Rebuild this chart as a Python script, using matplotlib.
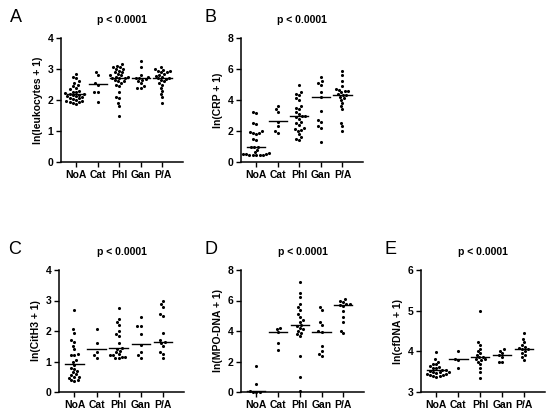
import numpy as np
import matplotlib
matplotlib.use("Agg")
import matplotlib.pyplot as plt

plt.rcParams['font.family'] = ['Liberation Sans', 'DejaVu Sans']

categories = ["NoA", "Cat", "Phl", "Gan", "P/A"]

# Panel A: ln(leukocytes + 1)
leuk = [
    [2.85, 2.75, 2.7, 2.6, 2.55, 2.5, 2.45, 2.4, 2.35, 2.3, 2.27, 2.25, 2.22, 2.2, 2.18,
     2.17, 2.15, 2.13, 2.12, 2.1, 2.08, 2.05, 2.02, 2.0, 1.98, 1.96, 1.94, 1.92, 1.9, 1.88],
    [2.9, 2.8, 2.55, 2.5, 2.25, 2.25, 1.95],
    [3.15, 3.1, 3.05, 3.05, 3.0, 3.0, 2.95, 2.9, 2.9, 2.85, 2.8, 2.8, 2.75, 2.75, 2.72,
     2.7, 2.7, 2.65, 2.6, 2.6, 2.55, 2.5, 2.45, 2.25, 2.1, 2.05, 1.9, 1.8, 1.5],
    [3.25, 3.05, 2.8, 2.75, 2.7, 2.7, 2.68, 2.65, 2.6, 2.55, 2.45, 2.4, 2.4],
    [3.05, 3.0, 2.98, 2.95, 2.95, 2.9, 2.9, 2.85, 2.8, 2.78, 2.75, 2.72, 2.7, 2.68, 2.65,
     2.6, 2.55, 2.5, 2.4, 2.3, 2.2, 2.1, 1.9],
]
leuk_med = [2.2, 2.52, 2.72, 2.7, 2.72]

# Panel B: ln(CRP + 1)
crp = [
    [3.2, 3.15, 2.5, 2.45, 2.0, 1.95, 1.9, 1.85, 1.8, 1.5, 1.45, 1.0, 1.0, 0.95, 0.8,
     0.62, 0.57, 0.54, 0.51, 0.49, 0.47, 0.45, 0.44, 0.43, 0.42],
    [3.6, 3.4, 3.2, 2.6, 2.3, 2.0, 1.9],
    [5.0, 4.5, 4.4, 4.3, 4.1, 4.0, 3.6, 3.5, 3.4, 3.2, 3.1, 3.0, 2.95, 2.9, 2.8, 2.6,
     2.5, 2.4, 2.2, 2.1, 2.05, 2.0, 1.8, 1.6, 1.5, 1.4],
    [5.5, 5.2, 5.1, 5.0, 4.5, 4.2, 3.3, 2.7, 2.6, 2.3, 2.2, 1.3],
    [5.85, 5.6, 5.2, 4.9, 4.7, 4.65, 4.6, 4.55, 4.5, 4.4, 4.35, 4.3, 4.2, 4.1, 4.0,
     3.8, 3.6, 3.4, 2.5, 2.3, 2.0],
]
crp_med = [1.0, 2.62, 2.95, 4.2, 4.35]

# Panel C: ln(CitH3 + 1)
cith3 = [
    [2.7, 2.05, 1.95, 1.7, 1.65, 1.5, 1.4, 1.25, 1.2, 1.2, 1.05, 1.0, 0.9, 0.8, 0.75,
     0.7, 0.65, 0.6, 0.55, 0.5, 0.5, 0.45, 0.4, 0.38, 0.35],
    [2.05, 1.6, 1.3, 1.2, 1.12],
    [2.75, 2.4, 2.3, 2.2, 2.0, 1.9, 1.85, 1.6, 1.45, 1.4, 1.35, 1.3, 1.25, 1.2, 1.2,
     1.15, 1.15, 1.12, 1.1],
    [2.45, 2.15, 2.15, 1.9, 1.55, 1.3, 1.2, 1.12],
    [3.0, 2.9, 2.8, 2.55, 2.5, 1.95, 1.7, 1.65, 1.6, 1.5, 1.3, 1.25, 1.1],
]
cith3_med = [0.93, 1.42, 1.45, 1.58, 1.65]

# Panel D: ln(MPO-DNA + 1)
mpo = [
    [1.7, 0.5, 0.05, 0.03, 0.0, 0.0],
    [4.2, 4.15, 3.95, 3.2, 2.75],
    [7.2, 6.5, 6.2, 5.8, 5.6, 5.4, 5.1, 4.9, 4.7, 4.6, 4.4, 4.3, 4.2, 4.1, 4.0, 3.9,
     3.8, 3.7, 2.35, 1.0, 0.05],
    [5.6, 5.4, 4.6, 4.4, 4.0, 3.95, 3.0, 2.7, 2.5, 2.35],
    [6.1, 6.0, 5.9, 5.8, 5.75, 5.7, 5.65, 5.3, 4.9, 4.6, 4.0, 3.85],
]
mpo_med = [0.05, 3.95, 4.4, 3.95, 5.72]

# Panel E: ln(cfDNA + 1)
cfdna = [
    [3.98, 3.8, 3.75, 3.7, 3.68, 3.65, 3.62, 3.6, 3.58, 3.55, 3.55, 3.52, 3.5, 3.5,
     3.48, 3.47, 3.45, 3.45, 3.43, 3.42, 3.4, 3.4, 3.38],
    [4.02, 3.82, 3.78, 3.6],
    [4.98, 4.22, 4.15, 4.05, 4.0, 3.95, 3.9, 3.87, 3.85, 3.82, 3.8, 3.78, 3.75, 3.7,
     3.6, 3.5, 3.35],
    [4.05, 4.02, 3.95, 3.9, 3.85, 3.75, 3.75],
    [4.45, 4.3, 4.22, 4.15, 4.1, 4.08, 4.05, 4.05, 4.0, 3.95, 3.9, 3.85, 3.78],
]
cfdna_med = [3.53, 3.8, 3.85, 3.92, 4.05]

panels = [
    dict(letter="A", data=leuk, med=leuk_med, ylabel="ln(leukocytes + 1)",
         ylim=(0, 4), yticks=[0, 1, 2, 3, 4], pos=[61, 38, 122, 124]),
    dict(letter="B", data=crp, med=crp_med, ylabel="ln(CRP + 1)",
         ylim=(0, 8), yticks=[0, 2, 4, 6, 8], pos=[241, 38, 122, 124]),
    dict(letter="C", data=cith3, med=cith3_med, ylabel="ln(CitH3 + 1)",
         ylim=(0, 4), yticks=[0, 1, 2, 3, 4], pos=[59, 270, 125, 122]),
    dict(letter="D", data=mpo, med=mpo_med, ylabel="ln(MPO-DNA + 1)",
         ylim=(0, 8), yticks=[0, 2, 4, 6, 8], pos=[241, 270, 123, 122]),
    dict(letter="E", data=cfdna, med=cfdna_med, ylabel="ln(cfDNA + 1)",
         ylim=(3, 6), yticks=[3, 4, 5, 6], pos=[421, 270, 124, 122]),
]

W, H = 550, 413
fig = plt.figure(figsize=(W / 100, H / 100), dpi=100)


def swarm_offsets(ax, vals, d):
    p0 = ax.transData.transform((0, 0))
    p1 = ax.transData.transform((1, 1))
    sx = p1[0] - p0[0]
    sy = p1[1] - p0[1]
    vals = np.asarray(vals, dtype=float)
    order = np.argsort(vals)
    ys = vals * sy
    placed = []
    offs = np.zeros(len(vals))
    for i in order:
        y = ys[i]
        cands = [0.0]
        for px, py in placed:
            dy = y - py
            if abs(dy) < d:
                dx = np.sqrt(d * d - dy * dy)
                cands += [px + dx, px - dx]
        cands.sort(key=lambda c: (abs(c), c))
        for c in cands:
            ok = all((c - px) ** 2 + (y - py) ** 2 >= d * d - 1e-6 for px, py in placed)
            if ok:
                placed.append((c, y))
                offs[i] = c / sx
                break
    return offs


for p in panels:
    x0, y0, w, h = p["pos"]
    ax = fig.add_axes([x0 / W, 1 - (y0 + h) / H, w / W, h / H])
    ax.set_xlim(-0.7, 4.95)
    ax.set_ylim(*p["ylim"])
    ax.set_yticks(p["yticks"])
    ax.set_xticks(range(len(categories)))
    ax.set_xticklabels(categories, fontweight="bold", fontsize=7.5)
    for lab in ax.get_yticklabels():
        lab.set_fontweight("bold")
        lab.set_fontsize(7.5)
    for s in ["top", "right"]:
        ax.spines[s].set_visible(False)
    for s in ["left", "bottom"]:
        ax.spines[s].set_linewidth(1.1)
        ax.spines[s].set_clip_on(False)
    ax.tick_params(direction="out", length=3.5, width=1.0, pad=2)
    ax.set_ylabel(p["ylabel"], fontsize=7.5, fontweight="bold", labelpad=3)
    ax.set_title("p < 0.0001", fontsize=7.5, fontweight="bold", pad=11)
    for i, vals in enumerate(p["data"]):
        offs = swarm_offsets(ax, vals, 3.4)
        ax.scatter(i + offs, vals, s=5, color="black", linewidths=0,
                   clip_on=False, zorder=3)
        ax.plot([i - 0.42, i + 0.42], [p["med"][i], p["med"][i]],
                color="black", lw=1.0, zorder=4, clip_on=False)
    lx = x0 - 51 if p["letter"] in ("A", "C") else x0 - 36
    fig.text(lx / W, 1 - (y0 - 16) / H, p["letter"], fontsize=13,
             ha="left", va="baseline")

fig.savefig("out.png", dpi=100)
